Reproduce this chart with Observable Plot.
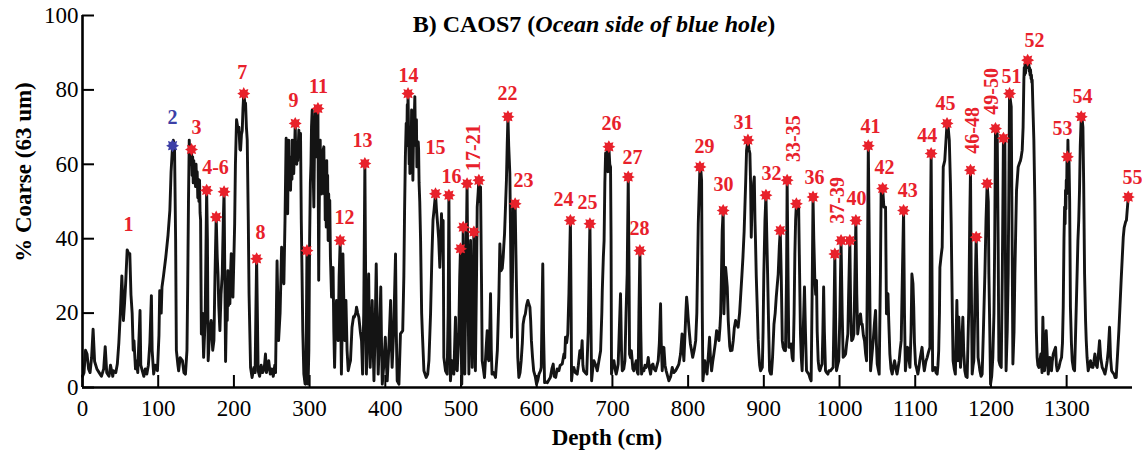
<!DOCTYPE html>
<html><head><meta charset="utf-8">
<script src="https://cdn.jsdelivr.net/npm/d3@7"></script>
<script src="https://cdn.jsdelivr.net/npm/@observablehq/plot@0.6"></script>
<style>
html,body{margin:0;padding:0;background:#fff;}
#chart{width:1142px;height:457px;}
</style></head><body><div id="chart"></div>
<script>
// ---- % coarse profile as [depth cm, % coarse] ----
const segA = [[0,3],[2,4],[4,10],[6,9],[8,5],[10,4],[12,8],[14,15.7],[16,7],[19,5],[22,4],[25,3],[28,5],[30,11],[32,4],[35,3],[37,6],[40,3],[41,4.5],[44,4],[46,6.3],[48,12],[49,16],[50,20],[52,30],[54,18],[55.5,22.5],[57,28],[59,37],[61,36],[62.5,36],[64,25],[65.6,20],[67,10],[68,12.6],[70,5],[71,7.2],[73,4],[74,10],[76,20.7],[77,6],[79,4.5],[81,3],[83,5],[85,3.6],[87,6],[89,12],[91,24.7],[92,10],[94,3.6],[96,6],[99,4.5],[101,14],[102,26],[104,20],[105,27],[107,30],[110,35],[113,41],[115.4,47.6],[117,58],[119,65],[120,66.5],[121.6,63.8],[123,40],[124,10],[126,6],[127,4.5],[129,8],[132,7.2],[134,4],[136,3.6],[138,10],[139,28],[140,50],[141,66.5],[142,60],[143,65],[144,64],[144.8,57],[145.5,62],[146.3,55],[147,61],[147.8,56],[148.5,60],[149.3,54],[150,60],[150.8,55],[151.5,58],[152.3,51],[153,56],[153.8,50],[154.6,55.7],[155.3,47],[156,45],[157,14.4],[158.5,20],[160,8.1],[162,18],[164,53],[165,40],[166,7.2],[168,15],[170,18],[172,10],[173.6,12.6],[175,30],[176.6,45.8],[178,35],[179,30.5],[180,22],[181.5,15.3],[183,25],[184.6,30.5],[186,45],[187,52.6],[188,30],[189,7],[190.5,25],[191.2,18],[192,31.4],[192.8,22],[193.5,28],[194.7,22.5],[195.5,30],[196.5,36],[197.5,26],[198.7,24.3],[200,35],[201,44],[202,60],[203.5,72],[205,70],[206.6,70],[208,64],[208.8,63.8],[210,68],[211,69],[212,75],[213,79],[214.5,76.4],[215.4,76.4],[216.5,70],[217.6,66.5],[219,45],[220,25.2],[222,5.4],[224,2.7],[226.4,5.4],[228,4],[229,20],[230,34.6],[231,20],[232,4.5]];
const segB = [[234,3],[236,6],[238,4],[240,5],[241.7,9],[243,4],[246,7.2],[248,3.6],[250,5],[252,3],[254,6],[255,4],[257,34],[259,12.6],[261,20],[263,37.7],[264.5,30],[266,27.9],[267.5,45],[269,67],[269.7,50],[270.4,62],[271,46.7],[271.7,60],[272.5,66.5],[273.2,55],[274,62],[274.8,53],[275.5,60],[276,62],[276.7,56],[277,66.5],[277.8,58],[278.5,64],[279,57.5],[279.7,62],[280.3,65],[281,71],[281.7,62],[282.3,66],[283,60],[283.6,64],[284.3,61],[285,65],[285.8,69.2],[286.4,62],[287,67],[287.6,62],[288,68.3],[289,45],[290,30.5],[291,15],[292.4,3.6],[294,1],[294.6,0.9],[295.5,10],[296.5,36.8],[297,15],[298,0.9],[299,10],[300,39.5],[301,55],[301.8,60],[302.5,70],[303.4,74.6],[304,62],[304.5,68],[305,55],[305.6,48.5],[306.2,60],[306.8,70],[307.8,75.5],[308.4,64],[309,72],[309.6,62],[310.2,73.7],[311,75],[311.5,50],[312,28.8],[312.6,45],[313.2,58],[314,66.5],[314.6,55],[315.2,63],[315.8,52],[316.6,60],[317.2,53],[318,64],[318.8,64.7],[319.4,52],[320,60],[320.6,45],[321.2,55],[322,43.1],[322.6,61],[323.2,48],[323.8,57],[324.5,39.5],[325.2,52],[326,44],[326.6,50.3],[327.5,35],[329,24.3],[330,28],[331,32.3],[332,15],[333,5.4],[334,15],[335.5,23.4],[336.5,15],[337.7,12.6],[339,30],[340.4,39.5],[341,20],[342,3.6],[343,15],[344,35.9],[345.5,20],[346.6,12.6],[348,23.4],[349.5,10],[351,4.5],[352.5,6],[354,7.2],[356,16.2],[358,19],[359,18.9],[361,20],[362,21.6],[363.5,20],[365,18.9],[367,15],[368.6,12.6],[370,3.6],[371.5,20],[373,60.2],[374,30],[375,3.6],[376.5,15],[378,30.5],[379,15],[380,5.4],[381.5,15],[382.7,23.4],[384,10],[385,1.8],[386.5,15],[388,33.2],[389.5,15],[390.6,3.6],[392.5,15],[394,27],[395,12],[396,0.9],[398,6],[400,13.5],[401,8],[402.5,1.8],[404.5,10],[407,23.4],[408,12],[409,5.4],[411,15],[413.5,35.9],[414.5,15],[415.7,1.8],[418,0.9],[420,14.4],[423,15.3],[424.5,30],[425.4,46.7],[426.5,62],[427.6,71],[428.3,65],[429,76],[429.6,70],[430,79],[430.8,68],[431.5,60],[432,66],[432.5,57.5],[433,66],[433.5,70],[434.1,62],[434.7,74.6],[435.3,63],[435.8,65],[436.4,55.7],[437,64],[437.5,68],[438.2,72],[439,78.2],[439.7,68],[440.5,65],[441.1,72],[441.7,59.3],[442.3,66],[443,62],[443.5,66],[444,63.8],[444.6,55],[445.5,50],[446.6,39.5],[448,20],[449,14.4],[451,4.5],[454,2.7],[456,3.6],[457.6,7.2],[459.8,20],[461.5,35],[463,45],[464.5,48],[466.3,52.1]];
const segC = [[467.5,48],[469.4,43.1],[470.5,40],[472,32.3],[473,38],[474.2,46.7],[475.3,40],[476.4,44.9],[477.3,8.1],[479.5,4.5],[481.7,3.6],[483,20],[484,51.7],[485,20],[486,1.8],[488,7.2],[490.5,3.6],[492.7,18.9],[494,5],[495,4.5],[497,14.4],[498.3,30],[499.3,37.3],[500,15],[501,0.9],[502,20],[502.9,43.1],[504,20],[505,3.6],[506.5,30],[508,54.8],[509,30],[510.4,3.6],[511.5,25],[512.6,39.5],[513.5,20],[514.8,5.4],[516,25],[517,41.8],[518,20],[519,4.5],[520.5,30],[521.4,48.5],[522.5,52],[523.6,55.7],[524.5,50],[525.8,53.9],[527,30],[528,7.2],[529.5,5],[531,2.7],[533,10],[534.6,15.3],[535.5,8],[536.8,7.2],[538,15],[539,25.2],[540,10],[541,3.6],[543,4],[545.6,2.7],[548,10],[550,24.3],[551.3,38.6],[552,35],[553,31.4],[554.5,32],[555.7,35],[556.5,38],[557.5,41.3],[559,50],[560,55.7],[561,65],[562,72.8],[563,65],[564.5,57.5],[565.5,40],[566.7,13.5],[568,30],[569,48.5],[570,45],[571.5,49.4],[573,30],[574,18.9],[575,8],[576.4,2.7],[578,4],[579.5,7.2],[581,12],[582,17],[583.5,18.9],[585,19.8],[586.5,22],[588.3,23.4],[589.5,22.5],[591,21.6],[592,18],[593,12.6],[594.5,8],[596,4.5],[598,3],[599.8,0.9],[601.5,2],[603,3.6],[605,4.5],[606,5.4],[607,20],[608,33.2],[609,15],[610.4,1.3],[612,1.5],[614,1.3],[616,2],[618,2.7],[620,5],[621.8,6.3],[623,3],[625,2.7],[627,5],[629.3,4.5],[631,6],[633.7,6.3],[636,9],[637,8],[638,13.5],[639.5,12],[641,14.4],[642.5,25],[644.5,44.9],[645.5,20],[646,1.8],[647.5,5],[649,5.4],[651,4],[653.5,3.6],[655,6],[657,9.9],[658.5,8],[660,12.6],[661,6],[662,4.5],[664,4],[666,3.6],[668,15],[669.5,35],[670.3,44],[671.5,20],[672.5,1.8],[674,5],[675.6,7.2],[678,6],[680,4.5],[682,7],[684.4,9.9],[686,20],[686.6,26],[688,35],[689,39.5],[690,55],[691,63],[692,62],[693,63.8],[694,58],[695.3,64.7],[696.5,60],[697.5,59.3],[698.2,40],[698.8,3.6]];
const segD = [[700,6],[702,7.2],[703.5,5],[705,3.6],[706.5,5],[707.6,6.3],[709,15],[710.7,25.2],[712,10],[713,4.5],[715,5],[716.5,7.2],[718,20],[719.5,30.5],[720.9,56.6],[722,30],[722.6,9],[724,8],[725,9.9],[727,5],[728.3,4.5],[730,6],[731.4,7.2],[733,4],[734,3.6],[735,20],[736.3,36.8],[737.5,15],[738.5,3.6],[740,5],[741.6,4.5],[743,6],[744.6,5.4],[746,6],[747.3,8.1],[749,5],[750.4,3.6],[752,6],[753.5,6.3],[755,5],[757,4.5],[759,6],[760.5,7.2],[762,12],[763.6,22.5],[764.5,12],[765.8,4.5],[767,8],[768,10.8],[769.5,6],[771,4.5],[773,3],[774.6,1.8],[777,3],[779,5.4],[781,4],[783.4,4.5],[786,5.5],[787.8,6.3],[790,9],[792,14.4],[794.4,7.2],[796,15],[797,20],[798,24.3],[799,22],[800,18.9],[801.5,15],[803,11.7],[804.5,10],[806,8.1],[808,10],[810,12.6],[811.5,20],[813.4,44],[815.6,59.3],[817,58],[817.8,55.7],[818.7,20],[819.5,1.8],[821,5],[822,7.2],[823.5,5],[825,3.6],[826.5,8],[828.3,13.5],[829.5,8],[831,4.5],[832.5,7],[834,9],[836,12],[837.6,15.3],[839,14],[840.7,12.6],[842,16],[843,19.8],[844,30],[845,42],[846.3,47.6],[847.3,19.8],[848.5,28],[849.5,32.3],[850.5,30],[851.7,27],[853,18],[854,14.4],[855,11],[856,9.9],[858,10],[859.6,12.6],[861,16],[862.7,18],[864.5,17],[866,16.2],[868,20],[869.3,24.3],[871,30],[872.4,35],[874,42],[875,48.5],[876,55],[877.2,63.8],[879,66.5],[880.5,64],[881.6,62.9],[882.5,55],[883.4,40.4],[884.5,50],[885.6,50.3],[886.5,55],[887.4,56.6],[888.3,45],[889,39.5],[890,30],[891.3,21.6],[892.5,13],[893.5,9],[894.5,6],[895.7,4.5],[897,5],[898,5.4],[899,15],[900,30.5],[901.5,45],[902.8,51.7],[904,40],[905,30.5],[906.5,15],[907.6,4.5],[909,3.6],[910,3.6],[911.5,8],[913.4,17],[915,20],[916.4,24.3],[917.5,27],[919,30.5],[920.5,38],[921.7,42.2]];
const segE = [[923,30],[924.4,12.6],[925.5,10.8],[927,10],[928.6,9.9],[930,30],[930.8,55.7],[932,30],[933,10.8],[935,11],[936,11.7],[937.5,8],[938.7,7.2],[940,20],[941,35.9],[942,45],[943,49.4],[945,48],[946,48.5],[947.3,30],[948.4,14.4],[949.5,8],[950.6,4.5],[952,15],[953.7,27],[955,15],[956.4,4.5],[958,4],[959.4,3.6],[961,2.5],[962.5,1.8],[963.8,25],[965,51.2],[966,40],[967.4,28.8],[968.5,25],[969.6,28.8],[970.5,15],[971.8,7.2],[973,5],[974,4.5],[975.5,5.5],[977,6.3],[978,15],[979,27],[980,15],[981.5,4.5],[983,4],[984.6,3.6],[986,4.5],[988,4.5],[990,5],[991.6,5.4],[992.7,20],[993.8,35.9],[995,15],[996,4.5],[997.5,6],[999,7.2],[1000.5,20],[1002,39.5],[1003.5,20],[1004.8,8.1],[1006.5,8.5],[1008,9],[1009.5,12],[1011,14.4],[1012,25],[1013.6,39.5],[1014.8,20],[1016,12.6],[1017.5,13],[1019,14.4],[1020.3,30],[1021.6,44.9],[1022.8,25],[1024,14.4],[1026,18],[1027.7,19.8],[1029,17],[1030,17],[1031.5,14],[1033,12.6],[1034.5,9],[1035.7,7.2],[1037,35],[1038,65],[1039.5,35],[1041,4.5],[1042.5,8],[1044.5,12.6],[1046,17],[1047.6,20.7],[1048.7,12],[1049.8,6.3],[1051,5],[1052.4,3.6],[1054,30],[1055,53.9],[1056,52],[1057,53.5],[1058.6,48.5],[1060.8,48.5],[1062,19.8],[1063,22],[1064,25.2],[1065,18],[1066.5,9],[1068,5],[1069.6,3.6],[1071,5.5],[1072.7,7.2],[1074.5,5],[1076,3.6],[1077.5,5.5],[1078.8,7.2],[1080,10],[1081.5,12.6],[1083,30],[1084.6,47.6],[1085.8,20],[1087,4.5],[1088.5,8],[1090,10.8],[1091.5,8],[1093,5.4],[1094.5,15],[1095.6,30.5],[1097,28],[1098,21.6],[1099,12],[1100.4,6.3],[1102,5],[1103.5,3.6],[1105,5.5],[1106,7.2],[1107.5,9],[1109,10.8],[1110.5,7],[1112,4.5],[1114,7],[1115.8,8.1],[1117.5,9.5],[1119.4,10.8],[1120,40],[1121,62.9],[1122,35],[1123,4.5],[1124.5,5],[1126,5.4],[1127.5,4],[1129,3.6],[1130,6],[1131,9.9],[1132,20],[1132.6,32.3],[1134,35],[1135.6,37.7],[1137,59.3],[1139,61],[1140.5,66],[1142,71],[1143.5,70],[1145,66.5],[1146.5,55],[1147.5,44],[1149,20],[1150,7.2],[1151.5,5],[1153,3.6]];
const segF = [[1155,23.4],[1156.5,7.2],[1157.6,18.9],[1159.8,5.4],[1161.5,12],[1162.9,18.9],[1164,10],[1165.5,4.5],[1167,3],[1168.6,2.7],[1170,15],[1170.8,21.6],[1172,45],[1173,58.4],[1174,30],[1175.2,3.6],[1176.5,6],[1177.4,7.2],[1179,25],[1180.5,40.4],[1182,25],[1183,8.1],[1184.5,6],[1185.4,4.5],[1187,3],[1188.4,3.6],[1190,15],[1192,30.5],[1193.5,45],[1195,54.8],[1196.5,50],[1197.3,30.5],[1198.5,15],[1199.5,0.9],[1201,3],[1202.5,8.1],[1204,20],[1205,39.5],[1206,69.6],[1207,68],[1208.3,68.3],[1209.5,40],[1210.5,7.2],[1212,6],[1213.6,5.4],[1215,30],[1216.5,67],[1218.4,66.5],[1219.3,30],[1220,4.5],[1221.5,15],[1222.8,30.5],[1224.6,79],[1226.8,75.5],[1228,40],[1229,6.3],[1230.5,15],[1231.6,30.5],[1233,45],[1233.8,53],[1236,59.3],[1238,60.5],[1239,61],[1240,62],[1241.3,63.8],[1242.5,70],[1243.5,82.7],[1244,86],[1244.5,84],[1245.1,87],[1245.7,84.5],[1246.3,87.5],[1247,86],[1247.7,88],[1248.5,88],[1249.2,86],[1250,87.5],[1250.6,85],[1251,86],[1251.7,84],[1252.3,85.4],[1253,83],[1253.5,84],[1254,82],[1254.5,82.7],[1255.5,75],[1256.7,66.5],[1258,50],[1259,30.5],[1260,15],[1261,8.1],[1262,6],[1263.3,5.4],[1264.5,7],[1266,9],[1267.5,4],[1268.6,18.9],[1269.5,10],[1270.8,4.5],[1272,8],[1273,15.3],[1274.5,8],[1275.7,3.6],[1277,6],[1277.9,8.1],[1279,5],[1280,4.5],[1281,7],[1282.3,9],[1284,10],[1285.4,10.8],[1286.5,6],[1287.6,4.5],[1289,5],[1289.8,5.4],[1291.5,7],[1293.3,8.1],[1294.5,12],[1295.5,21.6],[1296.5,40],[1297.3,48.5],[1298,44],[1298.5,53],[1299,48],[1299.5,55.7],[1300,52],[1300.5,62],[1301.1,58],[1301.7,66.5],[1302.3,60],[1303,62.4],[1304,50],[1305,21.6],[1306.3,12],[1307.4,7.2],[1309,5],[1310.5,4.5],[1311.5,12],[1312.7,21.6],[1314,32],[1314.9,39.5],[1316,45],[1317,53],[1318,65],[1319.3,72.8],[1320.5,72],[1321.5,70],[1322.5,55],[1323.7,30.5],[1325,18],[1325.9,12.6],[1327,8],[1328.5,4.5],[1330,6],[1331.6,7.2],[1333,5.5],[1334.7,5.4],[1336,7],[1337.3,9],[1339,6],[1340.4,5.4],[1342,9],[1343.5,12.6],[1345,8],[1347,5.4],[1349,4.5],[1350.6,3.6],[1352,5],[1353.6,7.2],[1355,10],[1356.7,16.2],[1358,8],[1359.4,4.5],[1361,4],[1362.5,3.6],[1364,2.7],[1365.5,2.7],[1367,8],[1369,15.3],[1370.5,22],[1372,28.8],[1373.5,35],[1374.8,40.4],[1376,43],[1377.9,44.5],[1379,45],[1380,47.6],[1381.4,51.2]];

// ---- dated / marked samples ----
const markerId    = [2,3,4,5,6,7,8,9,10,11,12,13,14,15,16,17,18,19,20,21,22,23,24,25,26,27,28,29,30,31,32,33,34,35,36,37,38,39,40,41,42,43,44,45,46,47,48,49,50,51,52,53,54,55];
const markerDepth = [119,144,164,176.6,187,213,230,281,296.5,311,340.4,373,430,466.3,484,499.3,502.9,508,517,523.6,562,571.5,644.5,670.3,695.3,720.9,736.3,815.6,846.3,879,902.8,921.7,930.8,943,965,993.8,1002,1013.6,1021.6,1038,1057,1084.6,1121,1142,1173,1180.5,1195,1206,1216.5,1224.6,1248.5,1301,1319.3,1381.4];
const markerCoarse = [65,64,53,45.8,52.6,79,34.6,71,36.8,75,39.5,60.2,79,52.1,51.7,37.3,43.1,54.8,41.8,55.7,72.8,49.4,44.9,44,64.7,56.6,36.8,59.3,47.6,66.5,51.7,42.2,55.7,49.4,51.2,35.9,39.5,39.5,44.9,65,53.5,47.6,62.9,71,58.4,40.4,54.8,69.6,67,79,88,62,72.8,51.2];
const blueIds = [2];

// ---- event labels ----
const labelText   = ["1","2","3","4-6","7","8","9","11","12","13","14","15","16","17-21","22","23","24","25","26","27","28","29","30","31","32","33-35","36","37-39","40","41","42","43","44","45","46-48","49-50","51","52","53","54","55"];
const labelDepth  = [60.8,119,150.6,175.7,211,235,278.7,311.8,346,370,430.6,466.3,487.5,516.5,561.4,582.6,635.4,667,698.8,726.6,735.8,821.7,846.8,873,910,939,967,997,1022.5,1041,1059.4,1090,1116,1140,1175.7,1200.8,1227,1257.6,1294.6,1321,1387];
const labelCoarse = [43.8,72.6,69.9,59.1,84.7,41.7,77.2,80.9,45.7,66.4,83.9,64.5,56.7,64.5,79,55.6,50.5,49.7,71,61.8,42.7,64.8,54.6,71.2,57.5,66.9,56.5,50.3,50.8,70.2,59.1,53,67.7,76.3,69.1,79.6,83.6,93.3,69.6,78.2,56.5];
const verticalLabels = ["17-21","33-35","37-39","46-48","49-50"];

const xTicks = [0,100,200,300,400,500,600,700,800,900,1000,1100,1200,1300];
const yTicks = [0,20,40,60,80,100];

const RED = "#e8212b", BLUE = "#3c3fa6";
const SERIF = "'Liberation Serif','Times New Roman',serif";

const profile = [...segA, ...segB, ...segC, ...segD, ...segE, ...segF].map(([depth, coarse]) => ({depth, coarse}));
const markers = markerId.map((id, i) => ({id, depth: markerDepth[i], coarse: markerCoarse[i], blue: blueIds.includes(id)}));
const labels = labelText.map((t, i) => ({t, depth: labelDepth[i], coarse: labelCoarse[i], rot: verticalLabels.includes(t) ? -90 : 0, blue: t === "2"}));

const burst = {
  draw(context, size) {
    const R = Math.sqrt(size / Math.PI), r = R * 0.62, n = 8;
    for (let i = 0; i < 2 * n; i++) {
      const a = (i * Math.PI) / n - Math.PI / 2, rr = i % 2 ? r : R;
      const x = rr * Math.cos(a), y = rr * Math.sin(a);
      if (i) context.lineTo(x, y); else context.moveTo(x, y);
    }
    context.closePath();
  }
};

const plot = Plot.plot({
  width: 1142, height: 457,
  marginLeft: 82, marginRight: 10, marginTop: 15, marginBottom: 70,
  x: {domain: [0, 1387], label: null},
  y: {domain: [0, 100], label: null},
  style: {fontFamily: SERIF, fontSize: "23px", color: "#000", background: "#fff", overflow: "visible"},
  marks: [
    Plot.axisX({ticks: xTicks, tickFormat: "d", tickSize: -12, tickPadding: 24, strokeWidth: 2, fontSize: 23, label: null}),
    Plot.axisY({ticks: yTicks, tickFormat: "d", tickSize: -12, tickPadding: 16, strokeWidth: 2, fontSize: 23, label: null}),
    Plot.line(profile, {x: "depth", y: "coarse", stroke: "#141414", strokeWidth: 2.9, strokeLinejoin: "round"}),
    Plot.ruleY([0], {stroke: "#000", strokeWidth: 2.6}),
    Plot.ruleX([0], {stroke: "#000", strokeWidth: 2.6}),
    Plot.dot(markers.filter(d => !d.blue), {x: "depth", y: "coarse", symbol: burst, r: 6.5, fill: RED, stroke: null}),
    Plot.dot(markers.filter(d => d.blue), {x: "depth", y: "coarse", symbol: burst, r: 6.5, fill: BLUE, stroke: null}),
    Plot.text(labels.filter(d => !d.blue), {x: "depth", y: "coarse", text: "t", rotate: "rot", fill: RED, fontWeight: "bold", fontSize: 20, fontFamily: SERIF}),
    Plot.text(labels.filter(d => d.blue), {x: "depth", y: "coarse", text: "t", fill: BLUE, fontWeight: "bold", fontSize: 20, fontFamily: SERIF})
  ]
});
document.getElementById("chart").appendChild(plot);

const svg = d3.select(plot);
const title = svg.append("text").attr("x", 594).attr("y", 32).attr("text-anchor", "middle")
  .style("font-family", SERIF).style("font-size", "24px").style("font-weight", "bold").attr("fill", "#000");
title.append("tspan").text("B) CAOS7 (");
title.append("tspan").style("font-style", "italic").text("Ocean side of blue hole");
title.append("tspan").text(")");
svg.append("text").attr("x", 607).attr("y", 445).attr("text-anchor", "middle")
  .style("font-family", SERIF).style("font-size", "23px").style("font-weight", "bold").attr("fill", "#000")
  .text("Depth (cm)");
svg.append("text").attr("transform", "translate(31,172) rotate(-90)").attr("text-anchor", "middle")
  .style("font-family", SERIF).style("font-size", "23px").style("font-weight", "bold").attr("fill", "#000")
  .text("% Coarse (63 um)");
</script></body></html>
